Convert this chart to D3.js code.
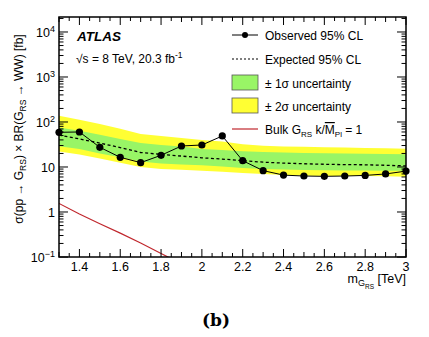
<!DOCTYPE html>
<html>
<head>
<meta charset="utf-8">
<script src="https://cdn.jsdelivr.net/npm/d3@7"></script>
<style>
  html, body { margin: 0; padding: 0; background: #fff; }
  svg { display: block; font-family: "Liberation Sans", Arial, sans-serif; }
</style>
</head>
<body>
<svg id="limit-plot"></svg>
<script>
// Graviton masses in TeV
const masses = [1.3, 1.4, 1.5, 1.6, 1.7, 1.8, 1.9, 2.0, 2.1, 2.2, 2.3, 2.4, 2.5, 2.6, 2.7, 2.8, 2.9, 3.0];
// Limits on sigma x BR in fb
const observed = [59, 60, 27.4, 16.4, 12.5, 18.2, 29.3, 30.8, 48.9, 13.8, 8.3, 6.6, 6.3, 6.2, 6.3, 6.5, 7.0, 8.1];
const expected = [51, 42, 34, 27, 21, 19, 17.5, 16, 15, 13.8, 12.8, 12.2, 11.8, 11.5, 11.3, 11.2, 10.9, 10.6];
const oneSigmaLow = [29, 25, 20, 16.5, 13.2, 12, 11.3, 11, 10.2, 9.5, 9.0, 8.8, 8.6, 8.5, 8.4, 8.4, 8.3, 8.2];
const oneSigmaHigh = [75, 64, 52, 42, 34, 31, 28.5, 25, 24, 22.5, 21.5, 21, 20.5, 20.2, 20, 19.8, 19.5, 19.2];
const twoSigmaLow = [22, 19, 15.5, 12.5, 10, 9, 8.7, 8.3, 7.8, 7.4, 7.0, 6.6, 6.4, 6.3, 6.3, 6.3, 6.2, 6.1];
const twoSigmaHigh = [138, 112, 90, 71, 54, 49, 44, 40, 37, 32, 29.5, 28.5, 28, 27.5, 27, 26.5, 26, 25.5];
// Bulk RS graviton prediction, k/MPl = 1
const theoryMasses = [1.3, 1.4, 1.5, 1.6, 1.7, 1.8, 1.9];
const theory = [1.55, 0.9, 0.55, 0.34, 0.205, 0.12, 0.07];

const xTickLabels = [1.4, 1.6, 1.8, 2.0, 2.2, 2.4, 2.6, 2.8, 3.0];
const yDecades = [0.1, 1, 10, 100, 1000, 10000];

const svgWidth = 429, svgHeight = 337;
const margin = {left: 59, top: 17, right: 23, bottom: 80};
const width = svgWidth - margin.left - margin.right;
const height = svgHeight - margin.top - margin.bottom;

const svg = d3.select("#limit-plot")
    .attr("width", svgWidth)
    .attr("height", svgHeight);

const x = d3.scaleLinear().domain([1.3, 3.0]).range([0, width]);
const y = d3.scaleLog().domain([0.1, Math.pow(10, 4.333)]).range([height, 0]);

const plot = svg.append("g").attr("transform", `translate(${margin.left},${margin.top})`);

svg.append("defs").append("clipPath").attr("id", "frame-clip")
    .append("rect").attr("width", width).attr("height", height);

const data = masses.map((m, i) => ({
    m, obs: observed[i], exp: expected[i],
    g1: oneSigmaLow[i], g2: oneSigmaHigh[i], y1: twoSigmaLow[i], y2: twoSigmaHigh[i]
}));

const bands = plot.append("g").attr("clip-path", "url(#frame-clip)");

// +-2 sigma band then +-1 sigma band on top
bands.append("path")
    .datum(data)
    .attr("fill", "#ffff33")
    .attr("d", d3.area().x(d => x(d.m)).y0(d => y(d.y1)).y1(d => y(d.y2)));

bands.append("path")
    .datum(data)
    .attr("fill", "#99f566")
    .attr("d", d3.area().x(d => x(d.m)).y0(d => y(d.g1)).y1(d => y(d.g2)));

// expected limit
bands.append("path")
    .datum(data)
    .attr("fill", "none")
    .attr("stroke", "#000")
    .attr("stroke-width", 1.3)
    .attr("stroke-dasharray", "3,2.5")
    .attr("d", d3.line().x(d => x(d.m)).y(d => y(d.exp)));

// theory curve
bands.append("path")
    .datum(theoryMasses.map((m, i) => [m, theory[i]]))
    .attr("fill", "none")
    .attr("stroke", "#c0272d")
    .attr("stroke-width", 1.2)
    .attr("d", d3.line().x(d => x(d[0])).y(d => y(d[1])));

// observed limit
plot.append("path")
    .datum(data)
    .attr("fill", "none")
    .attr("stroke", "#000")
    .attr("stroke-width", 1)
    .attr("d", d3.line().x(d => x(d.m)).y(d => y(d.obs)));

plot.selectAll("circle.obs")
    .data(data)
    .enter()
    .append("circle")
    .attr("class", "obs")
    .attr("cx", d => x(d.m))
    .attr("cy", d => y(d.obs))
    .attr("r", 3.6)
    .attr("fill", "#000");

// axes: ROOT style, ticks inside on all four sides
const xMajor = d3.range(1.3, 3.0001, 0.1).map(v => +v.toFixed(2));
const xMinor = d3.range(1.35, 3.0, 0.1).map(v => +v.toFixed(2));
const yMinor = [];
yDecades.forEach(dec => { for (let k = 2; k <= 9; k++) if (dec * k < y.domain()[1]) yMinor.push(dec * k); });

const ticks = plot.append("g").attr("stroke", "#000").attr("stroke-width", 1);
function vTick(v, len) {
    ticks.append("line").attr("x1", x(v)).attr("x2", x(v)).attr("y1", height).attr("y2", height - len);
    ticks.append("line").attr("x1", x(v)).attr("x2", x(v)).attr("y1", 0).attr("y2", len);
}
function hTick(v, len) {
    ticks.append("line").attr("y1", y(v)).attr("y2", y(v)).attr("x1", 0).attr("x2", len);
    ticks.append("line").attr("y1", y(v)).attr("y2", y(v)).attr("x1", width).attr("x2", width - len);
}
xMajor.forEach(v => vTick(v, xTickLabels.some(t => Math.abs(t - v) < 1e-6) ? 8 : 5));
xMinor.forEach(v => vTick(v, 4));
yDecades.forEach(v => hTick(v, 9));
yMinor.forEach(v => hTick(v, 4.5));

plot.append("rect")
    .attr("width", width)
    .attr("height", height)
    .attr("fill", "none")
    .attr("stroke", "#000")
    .attr("stroke-width", 1.5);

// tick labels
plot.selectAll("text.xlab")
    .data(xTickLabels)
    .enter()
    .append("text")
    .attr("x", d => x(d))
    .attr("y", height + 14)
    .attr("text-anchor", "middle")
    .attr("font-size", 12.5)
    .text(d => d3.format("~g")(d));

const yLab = plot.selectAll("text.ylab")
    .data(yDecades)
    .enter()
    .append("text")
    .attr("x", -4)
    .attr("y", d => y(d) + 5)
    .attr("text-anchor", "end")
    .attr("font-size", 12.5);
yLab.each(function(d) {
    const t = d3.select(this);
    if (d === 1) t.text("1");
    else if (d === 10) t.text("10");
    else {
        t.append("tspan").text("10");
        t.append("tspan").attr("dy", -5).attr("font-size", 9).text(String(Math.round(Math.log10(d))).replace("-", "\u2212"));
    }
});

// axis titles
const xTitle = svg.append("text")
    .attr("x", margin.left + width)
    .attr("y", 283)
    .attr("text-anchor", "end")
    .attr("font-size", 12.5);
xTitle.append("tspan").text("m");
xTitle.append("tspan").attr("dy", 3).attr("font-size", 9).text("G");
xTitle.append("tspan").attr("dy", 3).attr("font-size", 6.5).text("RS");
xTitle.append("tspan").attr("dy", -6).text(" [TeV]");

const yTitle = svg.append("text")
    .attr("transform", "translate(23,129) rotate(-90)")
    .attr("text-anchor", "middle")
    .attr("font-size", 12);
yTitle.append("tspan").text("σ(pp → G");
yTitle.append("tspan").attr("dy", 3).attr("font-size", 8.5).text("RS");
yTitle.append("tspan").attr("dy", -3).text(") × BR(G");
yTitle.append("tspan").attr("dy", 3).attr("font-size", 8.5).text("RS");
yTitle.append("tspan").attr("dy", -3).text(" → WW) [fb]");

// ATLAS label
svg.append("text")
    .attr("x", 77).attr("y", 41)
    .attr("font-size", 13.5).attr("font-weight", "bold").attr("font-style", "italic")
    .text("ATLAS");
const energy = svg.append("text").attr("x", 76).attr("y", 63).attr("font-size", 12);
energy.append("tspan").text("√s = 8 TeV, 20.3 fb");
energy.append("tspan").attr("dy", -5).attr("font-size", 8.5).text("-1");

// legend
const legend = svg.append("g").attr("font-size", 12);
const lx0 = 232, lx1 = 258, tx = 265;
const rows = [35, 59, 83, 106, 129];

legend.append("line").attr("x1", lx0).attr("x2", lx1).attr("y1", rows[0]).attr("y2", rows[0]).attr("stroke", "#000");
legend.append("circle").attr("cx", (lx0 + lx1) / 2).attr("cy", rows[0]).attr("r", 3).attr("fill", "#000");
legend.append("text").attr("x", tx).attr("y", rows[0] + 5).text("Observed 95% CL");

legend.append("line").attr("x1", lx0).attr("x2", lx1).attr("y1", rows[1]).attr("y2", rows[1])
    .attr("stroke", "#000").attr("stroke-width", 1.2).attr("stroke-dasharray", "2,2");
legend.append("text").attr("x", tx).attr("y", rows[1] + 5).text("Expected 95% CL");

legend.append("rect").attr("x", lx0).attr("y", rows[2] - 8).attr("width", lx1 - lx0).attr("height", 15)
    .attr("fill", "#99f566").attr("stroke", "#555").attr("stroke-width", 0.8);
legend.append("text").attr("x", tx).attr("y", rows[2] + 5).text("± 1σ uncertainty");

legend.append("rect").attr("x", lx0).attr("y", rows[3] - 8).attr("width", lx1 - lx0).attr("height", 15)
    .attr("fill", "#ffff33").attr("stroke", "#555").attr("stroke-width", 0.8);
legend.append("text").attr("x", tx).attr("y", rows[3] + 5).text("± 2σ uncertainty");

legend.append("line").attr("x1", lx0).attr("x2", lx1).attr("y1", rows[4]).attr("y2", rows[4])
    .attr("stroke", "#c0272d").attr("stroke-width", 1.2);
const bulk = legend.append("text").attr("x", tx).attr("y", rows[4] + 5);
bulk.append("tspan").text("Bulk G");
bulk.append("tspan").attr("dy", 3).attr("font-size", 8).text("RS");
bulk.append("tspan").attr("dy", -3).text(" k/");
bulk.append("tspan").attr("text-decoration", "overline").text("M");
bulk.append("tspan").attr("dy", 3).attr("font-size", 8).text("Pl");
bulk.append("tspan").attr("dy", -3).text(" = 1");

// panel caption
svg.append("text")
    .attr("x", 216).attr("y", 326)
    .attr("text-anchor", "middle")
    .attr("font-family", "'DejaVu Serif', 'Liberation Serif', serif")
    .attr("font-weight", "bold")
    .attr("font-size", 17)
    .text("(b)");
</script>
</body>
</html>
